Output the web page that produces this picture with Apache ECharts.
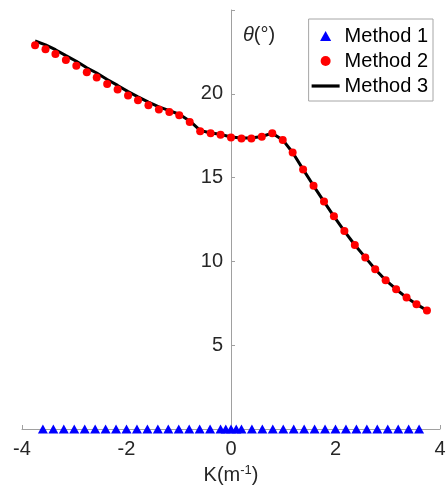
<!DOCTYPE html>
<html>
<head>
<meta charset="utf-8">
<script src="https://cdn.jsdelivr.net/npm/echarts@6/dist/echarts.min.js"></script>
<style>
html,body{margin:0;padding:0;background:#fff;}
#chart{width:447px;height:503px;}
</style>
</head>
<body>
<div id="chart"></div>
<script>
// Method 1 (triangles on the K axis)
var m1X = [-3.6,-3.4,-3.2,-3.0,-2.8,-2.6,-2.4,-2.2,-2.0,-1.8,-1.6,-1.4,-1.2,-1.0,-0.8,-0.6,-0.4,-0.2,-0.1,0,0.1,0.2,0.4,0.6,0.8,1.0,1.2,1.4,1.6,1.8,2.0,2.2,2.4,2.6,2.8,3.0,3.2,3.4,3.6];
var m1Y = [0,0,0,0,0,0,0,0,0,0,0,0,0,0,0,0,0,0,0,0,0,0,0,0,0,0,0,0,0,0,0,0,0,0,0,0,0,0,0];
// Method 2 (red dots)
var m2X = [-3.75,-3.55,-3.36,-3.16,-2.96,-2.76,-2.57,-2.37,-2.17,-1.97,-1.78,-1.58,-1.38,-1.18,-0.99,-0.79,-0.59,-0.39,-0.20,0,0.20,0.39,0.59,0.79,0.99,1.18,1.38,1.58,1.78,1.97,2.17,2.37,2.57,2.76,2.96,3.16,3.36,3.55,3.75];
var m2Y = [22.90,22.66,22.37,22.01,21.68,21.28,20.98,20.59,20.26,19.90,19.61,19.31,19.07,18.91,18.72,18.32,17.77,17.64,17.56,17.40,17.33,17.33,17.43,17.64,17.25,16.50,15.49,14.51,13.57,12.69,11.81,10.98,10.24,9.53,8.88,8.34,7.84,7.45,7.07];
// Method 3 (black line)
var m3X = [-3.75,-3.55,-3.36,-3.16,-2.96,-2.76,-2.57,-2.37,-2.17,-1.97,-1.78,-1.58,-1.38,-1.18,-0.99,-0.79,-0.59,-0.39,-0.20,0,0.20,0.39,0.59,0.79,0.99,1.18,1.38,1.58,1.78,1.97,2.17,2.37,2.57,2.76,2.96,3.16,3.36,3.55,3.75];
var m3Y = [23.15,22.92,22.63,22.28,21.94,21.55,21.24,20.85,20.50,20.13,19.82,19.50,19.22,19.00,18.78,18.38,17.82,17.66,17.58,17.42,17.36,17.36,17.45,17.65,17.25,16.50,15.49,14.51,13.57,12.69,11.81,10.98,10.24,9.53,8.88,8.34,7.84,7.45,7.07];
var xTicks = [-4,-2,0,2,4];
var yTicks = [0,5,10,15,20,25];

function pairs(xs, ys){ return xs.map(function(x,i){ return [x, ys[i]]; }); }

var chart = echarts.init(document.getElementById('chart'), null, {renderer:'canvas'});
var font = 'Liberation Sans, Arial, Helvetica, sans-serif';
var gridLeft = 22;
chart.setOption({
  animation: false,
  backgroundColor: '#fff',
  textStyle: {fontFamily: font},
  grid: {left: gridLeft, right: 7, top: 10, bottom: 74, containLabel: false, outerBoundsMode: 'none'},
  legend: {
    orient: 'vertical', right: 14, top: 19,
    itemWidth: 28, itemHeight: 10, itemGap: 5,
    padding: [7, 5, 5, 3],
    borderColor: '#a6a6a6', borderWidth: 1,
    textStyle: {fontSize: 20, color: '#000', fontFamily: font},
    data: [
      {name: 'Method 1', icon: 'path://M5,0 L10,9 L0,9 Z'},
      {name: 'Method 2', icon: 'circle'},
      {name: 'Method 3', icon: 'path://M0,0 L28,0 L28,3.2 L0,3.2 Z'}
    ]
  },
  xAxis: {
    type: 'value', min: xTicks[0], max: xTicks[xTicks.length-1], interval: 2,
    name: '{a|K(m}{s|-1}{a|)}', nameLocation: 'middle', nameGap: 27,
    nameTextStyle: {rich: {a: {fontSize: 20, color: '#262626', lineHeight: 24, fontFamily: font}, s: {fontSize: 13, color: '#262626', verticalAlign: 'top', lineHeight: 13, fontFamily: font}}},
    axisLine: {onZero: false, lineStyle: {color: '#a0a0a0', width: 1}},
    axisTick: {inside: true, length: 4, lineStyle: {color: '#a0a0a0'}},
    axisLabel: {fontSize: 20, color: '#262626', margin: 10, fontFamily: font},
    splitLine: {show: false}
  },
  yAxis: {
    type: 'value', min: yTicks[0], max: yTicks[yTicks.length-1], interval: 5,
    name: '{i|θ}(°)', nameLocation: 'end', nameGap: -25,
    nameTextStyle: {fontSize: 20, color: '#262626', align: 'left', verticalAlign: 'middle', padding: [0,0,0,12],
      rich: {i: {fontStyle: 'italic', fontSize: 20, color: '#262626', fontFamily: font}}},
    axisLine: {onZero: false, lineStyle: {color: '#a0a0a0', width: 1}},
    axisTick: {inside: true, length: 4, lineStyle: {color: '#a0a0a0'}},
    axisLabel: {fontSize: 20, color: '#262626', margin: 8, fontFamily: font,
      formatter: function(v){ return (v === 0 || v === 25) ? '' : String(v); }},
    splitLine: {show: false}
  },
  series: [
    {name: 'Method 3', type: 'line', data: pairs(m3X, m3Y), symbol: 'none', z: 2,
      lineStyle: {color: '#000', width: 3}, itemStyle: {color: '#000'}},
    {name: 'Method 2', type: 'scatter', data: pairs(m2X, m2Y), symbol: 'circle', symbolSize: 8, z: 3,
      itemStyle: {color: '#ff0000', opacity: 1}},
    {name: 'Method 1', type: 'scatter', data: pairs(m1X, m1Y), symbol: 'triangle', symbolSize: [10, 9], z: 3, clip: false,
      itemStyle: {color: '#0000ff', opacity: 1}}
  ]
});
// place the y axis at K = 0 (origin crossing), labels included
var zeroPx = chart.convertToPixel({xAxisIndex: 0}, 0);
chart.setOption({yAxis: {offset: -(zeroPx - gridLeft)}});
</script>
</body>
</html>
